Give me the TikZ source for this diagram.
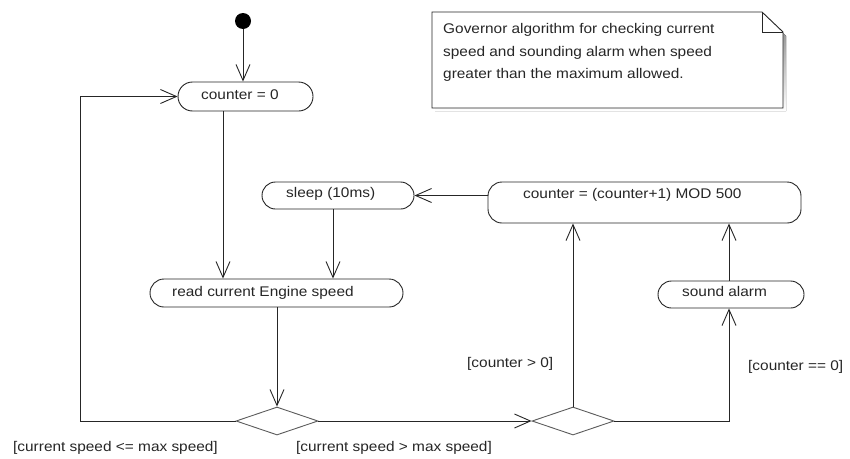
\documentclass[tikz,border=0pt]{standalone}
\usepackage{fontspec}
\setmainfont[FakeStretch=1.1]{Liberation Sans}
\usetikzlibrary{arrows.meta,shapes.geometric}
\definecolor{ink}{RGB}{38,38,38}
\definecolor{shade}{RGB}{0,0,128}
\begin{document}
\begin{tikzpicture}[x=1pt,y=-1pt,
  every node/.style={font=\fontsize{14}{17}\selectfont, text=ink},
  txt/.style={anchor=base west, inner sep=0pt},
  flow/.style={draw=ink, line width=0.9pt, -{Straight Barb[length=16pt,width=14pt,line width=0.9pt]}},
  link/.style={draw=ink, line width=0.9pt},
  action/.style={draw=ink, line width=0.9pt, rectangle, fill=white, inner sep=0pt},
  choice/.style={draw=ink!75, line width=0.9pt, diamond, fill=white, inner sep=0pt,
                 minimum width=82pt, minimum height=28pt}]

  % page
  \fill[white] (0,0) rectangle (850,458);
  \useasboundingbox (0,0) rectangle (850,458);

  % explanatory note with folded corner and drop shadow
  \fill[shade] (435,15) -- (765,15) -- (786,36) -- (786,111) -- (435,111) -- cycle;
  \draw[ink, line width=0.9pt, fill=white]
    (432,12) -- (762,12) -- (783,32) -- (783,108) -- (432,108) -- cycle;
  \draw[ink, line width=0.9pt] (762,12) -- (762,32) -- (783,32);
  \node[txt] (note1) at (443,33.5) {Governor algorithm for checking current};
  \node[txt] (note2) at (443,56) {speed and sounding alarm when speed};
  \node[txt] (note3) at (443,78.5) {greater than the maximum allowed.};

  % initial state
  \node[circle, fill=black, minimum size=16pt, inner sep=0pt] (start) at (243,21) {};

  % actions
  \node[action, minimum width=135pt, minimum height=29pt, rounded corners=14.5pt] (c0) at (245.5,96.5) {};
  \node[txt] (c0t) at (201,99) {counter = 0};

  \node[action, minimum width=152pt, minimum height=27pt, rounded corners=13.5pt] (sleep) at (338,195.5) {};
  \node[txt] (sleept) at (286,197.5) {sleep (10ms)};

  \node[action, minimum width=253pt, minimum height=28pt, rounded corners=14pt] (read) at (276.5,293) {};
  \node[txt] (readt) at (172,296.5) {read current Engine speed};

  \node[action, minimum width=313pt, minimum height=41pt, rounded corners=14pt] (mod) at (644.5,202.5) {};
  \node[txt] (modt) at (523,198) {counter = (counter+1) MOD 500};

  \node[action, minimum width=146pt, minimum height=27pt, rounded corners=13.5pt] (sound) at (731,294.5) {};
  \node[txt] (soundt) at (682,296.5) {sound alarm};

  % decisions
  \node[choice] (d1) at (277,421) {};
  \node[choice] (d2) at (573,421) {};

  % corner of the return loop
  \coordinate (lp) at (80,421);

  % transitions
  \draw[flow] (start.south) -- (start.south |- c0.north);
  \draw[flow] ([xshift=-22.5pt]c0.south) -- ([xshift=-22.5pt]c0.south |- read.north);
  \draw[flow] ([xshift=-5pt]sleep.south) -- ([xshift=-5pt]sleep.south |- read.north);
  \draw[flow] (read.south -| d1.north) -- (d1.north);
  \draw[flow] (d1.west) -- (lp) |- (c0.west);
  \draw[flow] (d1.east) -- (d2.west);
  \draw[flow] (d2.north) -- (d2.north |- mod.south);
  \draw[flow] (d2.east) -| ([xshift=-2pt]sound.south);
  \draw[flow] ([xshift=-2pt]sound.north) -- ([xshift=-2pt]sound.north |- mod.south);
  \draw[flow] (mod.west |- sleep.east) -- (sleep.east);

  % guards
  \node[txt] (g1) at (13,451.5) {[current speed <= max speed]};
  \node[txt] (g2) at (296,451.5) {[current speed > max speed]};
  \node[txt] (g3) at (467,367) {[counter > 0]};
  \node[txt] (g4) at (748,370) {[counter == 0]};
\end{tikzpicture}
\end{document}
